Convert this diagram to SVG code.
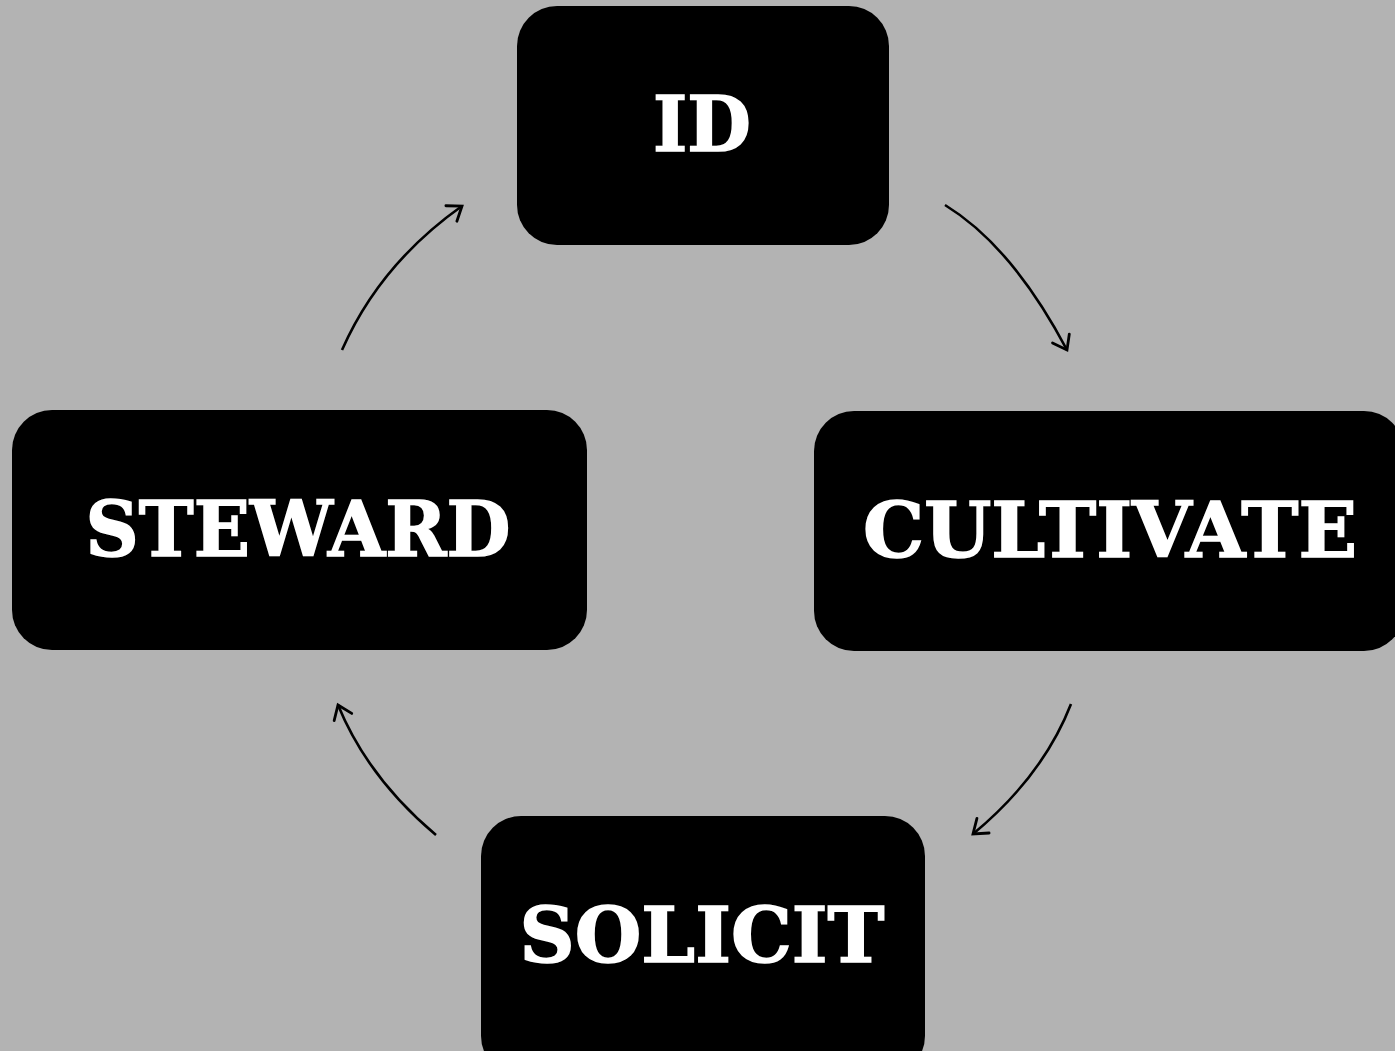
<svg xmlns="http://www.w3.org/2000/svg" width="1395" height="1051" viewBox="0 0 1395 1051">
<style>
.box{fill:#000}
.lbl{fill:#fff;stroke:#fff;stroke-width:1.6;font-family:"DejaVu Serif","Liberation Serif",serif;font-weight:bold;font-size:77px;text-anchor:middle}
.conn{fill:none;stroke:#000;stroke-width:2.6;marker-end:url(#ah)}
</style>
<defs>
<marker id="ah" markerUnits="userSpaceOnUse" markerWidth="30" markerHeight="30" refX="16" refY="15" orient="auto" overflow="visible">
<polyline points="3,5.5 16,15 3,24.5" fill="none" stroke="#000" stroke-width="2.8" stroke-linecap="round" stroke-linejoin="miter"/>
</marker>
</defs>
<rect width="1395" height="1051" fill="#b3b3b3"/>
<g id="node-id"><rect class="box" x="517" y="6" width="372" height="239" rx="40"/><text class="lbl" x="702" y="151" textLength="98" lengthAdjust="spacingAndGlyphs">ID</text></g>
<g id="node-cultivate"><rect class="box" x="814" y="411" width="590" height="240" rx="40"/><text class="lbl" x="1110" y="557" textLength="494" lengthAdjust="spacingAndGlyphs">CULTIVATE</text></g>
<g id="node-steward"><rect class="box" x="12" y="410" width="575" height="240" rx="40"/><text class="lbl" x="298" y="556" textLength="425" lengthAdjust="spacingAndGlyphs">STEWARD</text></g>
<g id="node-solicit"><rect class="box" x="481" y="816" width="444" height="260" rx="40"/><text class="lbl" x="702" y="962" textLength="365" lengthAdjust="spacingAndGlyphs">SOLICIT</text></g>
<g id="connectors">
<path class="conn" d="M945,205 Q1012,246 1067,350"/>
<path class="conn" d="M1071,704 Q1043,776 973,834"/>
<path class="conn" d="M436,835 Q368,778 338,705"/>
<path class="conn" d="M342,350 Q380,264 462,206"/>
</g>
</svg>
